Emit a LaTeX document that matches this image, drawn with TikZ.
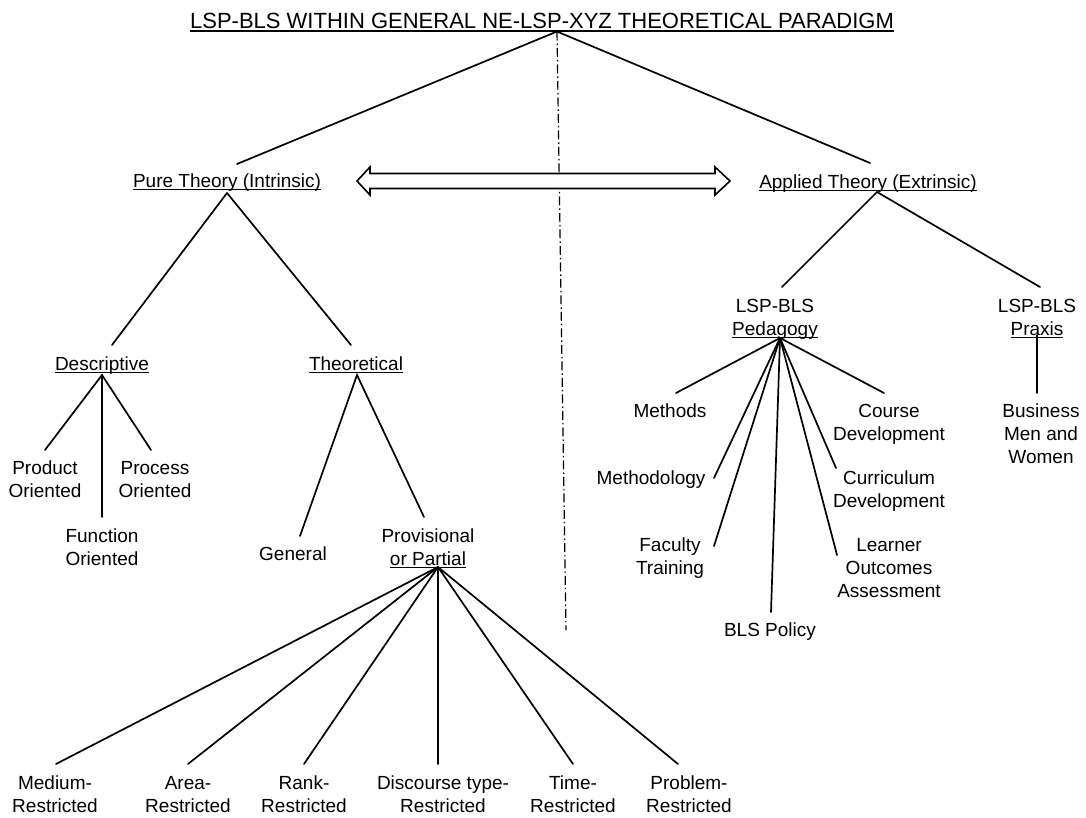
\documentclass[tikz,border=0pt]{standalone}
\usepackage{fontspec}
\setmainfont{Liberation Sans}
\usetikzlibrary{calc}
\newcommand\bodyfont{\fontsize{19}{23}\selectfont}
\newcommand\titlefont{\fontsize{22}{26}\selectfont}
\newlength\ulw
\newcommand\ulx[1]{\settowidth{\ulw}{#1}\rlap{\rule[-3pt]{\ulw}{1.4pt}}#1}
\newcommand\ult[1]{\settowidth{\ulw}{#1}\rlap{\rule[-3.8pt]{\ulw}{1.7pt}}#1}
\tikzset{
  lbl/.style={font=\bodyfont, align=center, inner sep=0pt, outer sep=0pt, anchor=base},
  conn/.style={line width=1.7pt, line cap=round},
  axis line/.style={line width=1.2pt, dash pattern=on 9pt off 3pt on 1.5pt off 3pt},
  hollow arrow/.style={line width=1.6pt, line join=miter, fill=white}
}
\begin{document}
\begin{tikzpicture}[x=1pt,y=-1pt]
\useasboundingbox (0,0) rectangle (1086,817);
\fill[white] (0,0) rectangle (1086,817);

% ---------- labels ----------
\node[lbl, font=\titlefont] (title) at (542,28) {\ult{LSP-BLS WITHIN GENERAL NE-LSP-XYZ THEORETICAL PARADIGM}};
\node[lbl] (pure) at (227,187) {\ulx{Pure Theory (Intrinsic)}};
\node[lbl] (appl) at (868,188) {\ulx{Applied Theory (Extrinsic)}};

\node[lbl] (desc) at (102,370) {\ulx{Descriptive}};
\node[lbl] (theo) at (356,370) {\ulx{Theoretical}};
\node[lbl] (prod) at (45,497) {Product\\Oriented};
\node[lbl] (proc) at (155,497) {Process\\Oriented};
\node[lbl] (func) at (102,565) {Function\\Oriented};
\node[lbl] (gen) at (293,560) {General};
\node[lbl] (prov) at (428,565) {Provisional\\\ulx{or Partial}};

\node[lbl] (med) at (55,812) {Medium-\\Restricted};
\node[lbl] (area) at (188,812) {Area-\\Restricted};
\node[lbl] (rank) at (304,812) {Rank-\\Restricted};
\node[lbl] (disc) at (443,812) {Discourse type-\\Restricted};
\node[lbl] (time) at (573,812) {Time-\\Restricted};
\node[lbl] (prob) at (689,812) {Problem-\\Restricted};

\node[lbl] (ped) at (775,335) {LSP-BLS\\\ulx{Pedagogy}};
\node[lbl] (prax) at (1037,335) {LSP-BLS\\\ulx{Praxis}};
\node[lbl] (bus) at (1041,463) {Business\\Men and\\Women};
\node[lbl] (meth) at (670,417) {Methods};
\node[lbl] (mlogy) at (651,484) {Methodology};
\node[lbl] (fac) at (670,574) {Faculty\\Training};
\node[lbl] (pol) at (770,636) {BLS Policy};
\node[lbl] (course) at (889,440) {Course\\Development};
\node[lbl] (curr) at (889,507) {Curriculum\\Development};
\node[lbl] (learn) at (889,597) {Learner\\Outcomes\\Assessment};

% ---------- hubs and connector ends ----------
\coordinate (title-hub) at (557,31.5);
\coordinate (pure-top) at (237,164);
\coordinate (appl-top) at (870,163);
\coordinate (pure-hub) at (227,193);
\coordinate (appl-hub) at (877,192);
\coordinate (desc-top) at (112,345);
\coordinate (theo-top) at (351,345);
\coordinate (desc-hub) at (102,375);
\coordinate (theo-hub) at (357,375);
\coordinate (prod-top) at (45,450);
\coordinate (proc-top) at (151,450);
\coordinate (func-top) at (102,517);
\coordinate (gen-top) at (300,536);
\coordinate (prov-top) at (424,517);
\coordinate (prov-hub) at (438,567);
\coordinate (med-top) at (56,764);
\coordinate (area-top) at (188,764);
\coordinate (rank-top) at (304,764);
\coordinate (disc-top) at (438,764);
\coordinate (time-top) at (573,764);
\coordinate (prob-top) at (678,764);
\coordinate (ped-top) at (782,287);
\coordinate (prax-top) at (1040,287);
\coordinate (ped-hub) at (780,338);
\coordinate (prax-hub) at (1037,335);
\coordinate (bus-top) at (1037,393);
\coordinate (meth-end) at (676,393);
\coordinate (mlogy-end) at (714,478);
\coordinate (fac-end) at (714,546);
\coordinate (pol-end) at (771,612);
\coordinate (course-end) at (884,393);
\coordinate (curr-end) at (836,468);
\coordinate (learn-end) at (837,555);
\coordinate (axis-end) at (566,630);
\coordinate (aL) at (357,181);
\coordinate (aR) at (730,181);

% ---------- central dash-dot axis ----------
\draw[axis line] (title-hub) -- (axis-end);

% ---------- double hollow arrow ----------
\draw[hollow arrow] (aL) -- ($(aL)+(13,-14)$) -- ($(aL)+(13,-7.5)$) -- ($(aR)+(-15,-7.5)$)
  -- ($(aR)+(-15,-14)$) -- (aR) -- ($(aR)+(-15,14)$) -- ($(aR)+(-15,7.5)$)
  -- ($(aL)+(13,7.5)$) -- ($(aL)+(13,14)$) -- cycle;

% ---------- tree connectors ----------
\draw[conn] (pure-top) -- (title-hub) -- (appl-top);
\draw[conn] (desc-top) -- (pure-hub) -- (theo-top);
\draw[conn] (prod-top) -- (desc-hub) -- (proc-top);
\draw[conn] (desc-hub) -- (func-top);
\draw[conn] (gen-top) -- (theo-hub) -- (prov-top);
\foreach \c in {med-top,area-top,rank-top,disc-top,time-top,prob-top}
  \draw[conn] (prov-hub) -- (\c);
\draw[conn] (ped-top) -- (appl-hub) -- (prax-top);
\foreach \c in {meth-end,mlogy-end,fac-end,pol-end,course-end,curr-end,learn-end}
  \draw[conn] (ped-hub) -- (\c);
\draw[conn] (prax-hub) -- (bus-top);
\end{tikzpicture}
\end{document}
